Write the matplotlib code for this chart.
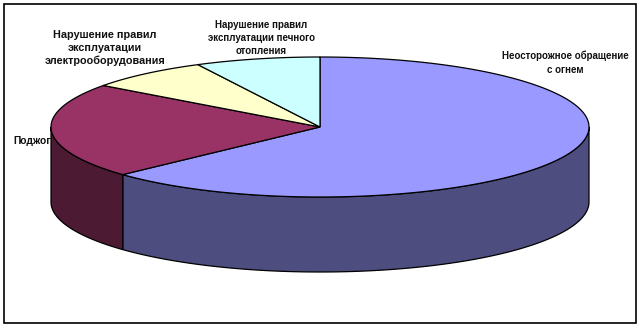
import numpy as np
import matplotlib
matplotlib.use("Agg")
import matplotlib.pyplot as plt
from matplotlib.patches import Polygon, Rectangle

# shares of fire causes, %, clockwise from 12 o'clock
labels = [
    "Неосторожное обращение\nс огнем",
    "Поджог",
    "Нарушение правил\nэксплуатации\nэлектрооборудования",
    "Нарушение правил\nэксплуатации печного\nотопления",
]
values = [63.1, 22.0, 7.4, 7.5]
top_colors = ["#9999FF", "#993366", "#FFFFCC", "#CCFFFF"]
side_colors = ["#4D4D7F", "#4C1A33", "#80806A", "#6A8080"]

# pie geometry in pixel coords
cx, cy = 320, 127
ra, rb = 269, 70
depth = 75


def pt(t, dy=0):
    return cx + ra * np.sin(t), cy - rb * np.cos(t) + dy


fig = plt.figure(figsize=(6.42, 3.29), dpi=100)
ax = fig.add_axes([0, 0, 1, 1])
ax.set_xlim(0, 642)
ax.set_ylim(329, 0)
ax.axis("off")

ax.add_patch(Rectangle((4, 4), 632, 319, fill=False, ec="black", lw=1.2, zorder=0))

bounds = np.concatenate([[0], np.cumsum(values)]) / sum(values) * 2 * np.pi

# front side walls (visible between 90 and 270 deg)
for i in range(len(values)):
    t0 = max(bounds[i], np.pi / 2)
    t1 = min(bounds[i + 1], 3 * np.pi / 2)
    if t1 <= t0:
        continue
    ts = np.linspace(t0, t1, 100)
    xs, ys = pt(ts)
    top = list(zip(xs, ys))
    bot = list(zip(xs, ys + depth))[::-1]
    ax.add_patch(Polygon(top + bot, closed=True, fc=side_colors[i],
                         ec="black", lw=0.9, zorder=2))

# top faces
for i in range(len(values)):
    ts = np.linspace(bounds[i], bounds[i + 1], 200)
    xs, ys = pt(ts)
    verts = [(cx, cy)] + list(zip(xs, ys))
    ax.add_patch(Polygon(verts, closed=True, fc=top_colors[i],
                         ec="black", lw=0.9, zorder=3))

font = dict(family="Liberation Sans", fontweight="bold", color="#111111")
ax.text(565, 63, labels[0], ha="center", va="center", fontsize=7.0,
        linespacing=1.45, zorder=1, **font)
ax.text(13, 141, labels[1], ha="left", va="center", fontsize=7.4,
        zorder=1, **font)
ax.text(105, 48, labels[2], ha="center", va="center", fontsize=7.8,
        linespacing=1.35, zorder=1, **font)
ax.text(261, 38, labels[3], ha="center", va="center", fontsize=7.0,
        linespacing=1.35, zorder=1, **font)

fig.savefig("out.png", dpi=100)
